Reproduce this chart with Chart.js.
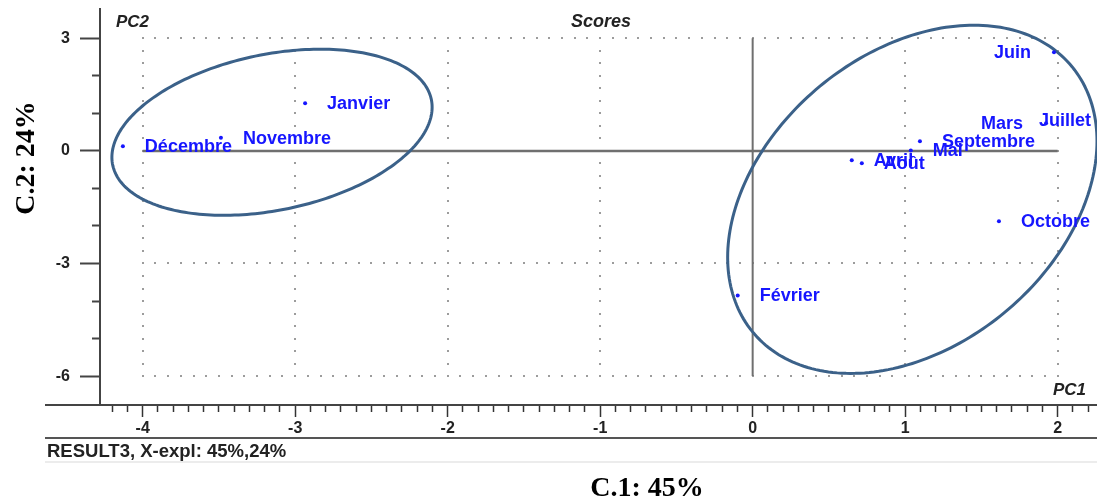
<!DOCTYPE html>
<html>
<head>
<meta charset="utf-8">
<title>Scores</title>
<script src="https://cdn.jsdelivr.net/npm/chart.js@4.4.1/dist/chart.umd.min.js"></script>
<style>
  html, body { margin: 0; padding: 0; background: #ffffff; }
  canvas { display: block; }
</style>
</head>
<body>
<canvas id="scores" width="1097" height="499"></canvas>
<script>
// Monthly scores on the first two principal components
const months = ['Janvier', 'Février', 'Mars', 'Avril', 'Mai', 'Juin',
                'Juillet', 'Août', 'Septembre', 'Octobre', 'Novembre', 'Décembre'];
const pc1 = [-2.935, -0.098, 1.924, 0.650, 1.037, 1.976, 2.370, 0.716, 1.097, 1.615, -3.487, -4.130];
const pc2 = [1.270, -3.850, 0.735, -0.250, 0.010, 2.630, 0.820, -0.330, 0.256, -1.877, 0.350, 0.123];
// which side of its point each name is written on
const labelSide = ['right', 'right', 'left', 'right', 'right', 'left',
                   'left', 'right', 'right', 'right', 'right', 'right'];

// Axis ranges and labelled ticks
const xRange = [-4.28, 2.245];
const yRange = [-6.77, 3.78];
const xMajorTicks = [-4, -3, -2, -1, 0, 1, 2];
const yMajorTicks = [3, 0, -3, -6];

// Group ellipses: centre, PC1 half-extent, PC2 offset at the PC1 extremes, conjugate PC2 half-axis
const ellipseCx = [-3.152, 1.047];
const ellipseCy = [0.496, -1.290];
const ellipseHalfWidth = [1.050, 1.211];
const ellipseTilt = [0.667, 1.547];
const ellipseHalfHeight = [2.110, 4.373];

const SANS = '"Liberation Sans", Arial, Helvetica, sans-serif';
const SERIF = '"Liberation Serif", "Times New Roman", Times, serif';
const isMajor = (v, list) => list.some(t => Math.abs(t - v) < 1e-6);

const decor = {
  id: 'decor',
  beforeDatasetsDraw(chart) {
    const { ctx, scales: { x, y } } = chart;
    const px = v => x.getPixelForValue(v);
    const py = v => y.getPixelForValue(v);
    const gx0 = Math.min(...xMajorTicks), gx1 = Math.max(...xMajorTicks);
    const gy0 = Math.min(...yMajorTicks), gy1 = Math.max(...yMajorTicks);
    ctx.save();

    // dotted reference grid
    ctx.fillStyle = '#9c9c9c';
    const dot = (a, b) => ctx.fillRect(Math.round(a) - 1, Math.round(b) - 1, 2, 2);
    for (const v of yMajorTicks) {
      if (v === 0) continue;
      for (let k = 0; k <= (gx1 - gx0) * 12; k++) dot(px(gx0 + k / 12), py(v));
    }
    for (const v of xMajorTicks) {
      if (v === 0) continue;
      for (let k = 0; k <= (gy1 - gy0) * 3; k++) dot(px(v), py(gy0 + k / 3));
    }

    // origin cross
    ctx.strokeStyle = '#6f6f6f';
    ctx.lineWidth = 2.5;
    ctx.beginPath();
    ctx.moveTo(px(gx0), py(0));
    ctx.lineTo(px(gx1), py(0));
    ctx.stroke();
    ctx.lineWidth = 2;
    ctx.beginPath();
    ctx.moveTo(px(0), py(gy1));
    ctx.lineTo(px(0), py(gy0));
    ctx.stroke();

    // group ellipses
    ctx.strokeStyle = '#3b6189';
    ctx.lineWidth = 3;
    for (let e = 0; e < ellipseCx.length; e++) {
      ctx.beginPath();
      const n = 240;
      for (let k = 0; k <= n; k++) {
        const t = (k / n) * Math.PI * 2;
        const vx = ellipseCx[e] + ellipseHalfWidth[e] * Math.cos(t);
        const vy = ellipseCy[e] + ellipseTilt[e] * Math.cos(t) + ellipseHalfHeight[e] * Math.sin(t);
        if (k === 0) ctx.moveTo(px(vx), py(vy)); else ctx.lineTo(px(vx), py(vy));
      }
      ctx.closePath();
      ctx.stroke();
    }
    ctx.restore();
  },
  afterDatasetsDraw(chart) {
    const { ctx } = chart;
    const meta = chart.getDatasetMeta(0);
    ctx.save();
    ctx.font = `bold 18px ${SANS}`;
    ctx.fillStyle = '#1616ff';
    ctx.textBaseline = 'middle';
    meta.data.forEach((pt, i) => {
      if (labelSide[i] === 'left') {
        ctx.textAlign = 'right';
        ctx.fillText(months[i], pt.x - 23, pt.y + 1);
      } else {
        ctx.textAlign = 'left';
        ctx.fillText(months[i], pt.x + 22, pt.y + 1);
      }
    });
    ctx.restore();
  },
  afterDraw(chart) {
    const { ctx, chartArea } = chart;
    const W = chart.width;
    ctx.save();

    // frame rules under the plot
    ctx.strokeStyle = '#444444';
    ctx.lineWidth = 2;
    ctx.beginPath();
    ctx.moveTo(45, chartArea.bottom);
    ctx.lineTo(W, chartArea.bottom);
    ctx.stroke();
    ctx.strokeStyle = '#555555';
    ctx.beginPath();
    ctx.moveTo(45, 438);
    ctx.lineTo(W, 438);
    ctx.stroke();
    ctx.strokeStyle = '#e6e6e6';
    ctx.lineWidth = 1.5;
    ctx.beginPath();
    ctx.moveTo(45, 462);
    ctx.lineTo(W, 462);
    ctx.stroke();

    // plot captions
    ctx.fillStyle = '#222222';
    ctx.textBaseline = 'middle';
    ctx.font = `italic bold 17px ${SANS}`;
    ctx.textAlign = 'left';
    ctx.fillText('PC2', 116, 22);
    ctx.textAlign = 'center';
    ctx.font = `italic bold 18px ${SANS}`;
    ctx.fillText('Scores', 601, 22);
    ctx.textAlign = 'right';
    ctx.font = `italic bold 17px ${SANS}`;
    ctx.fillText('PC1', 1086, 390);
    ctx.textAlign = 'left';
    ctx.font = `bold 18.5px ${SANS}`;
    ctx.fillText('RESULT3, X-expl: 45%,24%', 47, 452);

    // component titles
    ctx.fillStyle = '#000000';
    ctx.font = `bold 28px ${SERIF}`;
    ctx.textAlign = 'center';
    ctx.textBaseline = 'alphabetic';
    ctx.fillText('C.1: 45%', 647, 496);
    ctx.translate(34, 158);
    ctx.rotate(-Math.PI / 2);
    ctx.fillText('C.2: 24%', 0, 0);
    ctx.restore();
  }
};

const points = months.map((m, i) => ({ x: pc1[i], y: pc2[i] }));

new Chart(document.getElementById('scores'), {
  type: 'scatter',
  data: {
    datasets: [{
      label: 'Scores',
      data: points,
      pointRadius: 2,
      pointBackgroundColor: '#1616ff',
      pointBorderWidth: 0,
      pointHoverRadius: 2
    }]
  },
  options: {
    responsive: false,
    animation: false,
    events: [],
    layout: { padding: { top: 9, left: 0, right: 0, bottom: 0 } },
    plugins: {
      legend: { display: false },
      tooltip: { enabled: false },
      title: { display: false }
    },
    scales: {
      x: {
        type: 'linear',
        position: 'bottom',
        min: xRange[0],
        max: xRange[1],
        afterFit(s) { s.height = 94; s.paddingLeft = 0; s.paddingRight = 0; },
        border: { color: '#444444', width: 2 },
        grid: {
          drawOnChartArea: false,
          tickLength: 12,
          tickColor: '#333333',
          tickWidth: 1.5,
          tickBorderDash: c => (c.tick && isMajor(c.tick.value, xMajorTicks)) ? [] : [6, 100]
        },
        ticks: {
          stepSize: 0.1,
          includeBounds: false,
          autoSkip: false,
          maxRotation: 0,
          padding: 2,
          color: '#222222',
          font: { family: SANS, size: 16, weight: 'bold' },
          callback: v => isMajor(v, xMajorTicks) ? String(Math.round(v)) : ''
        }
      },
      y: {
        type: 'linear',
        position: 'left',
        min: yRange[0],
        max: yRange[1],
        afterFit(s) { s.width = 100; s.paddingTop = 0; s.paddingBottom = 0; },
        border: { color: '#444444', width: 2 },
        grid: {
          drawOnChartArea: false,
          tickLength: 20,
          tickColor: '#444444',
          tickWidth: 2,
          tickBorderDash: c => (c.tick && isMajor(c.tick.value, yMajorTicks)) ? [] : [8, 100],
          tickBorderDashOffset: c => (c.tick && isMajor(c.tick.value, yMajorTicks)) ? 0 : 96
        },
        ticks: {
          stepSize: 1,
          includeBounds: false,
          autoSkip: false,
          padding: 10,
          color: '#222222',
          font: { family: SANS, size: 16, weight: 'bold' },
          callback: v => isMajor(v, yMajorTicks) ? String(Math.round(v)) : ''
        }
      }
    }
  },
  plugins: [decor]
});
</script>
</body>
</html>
